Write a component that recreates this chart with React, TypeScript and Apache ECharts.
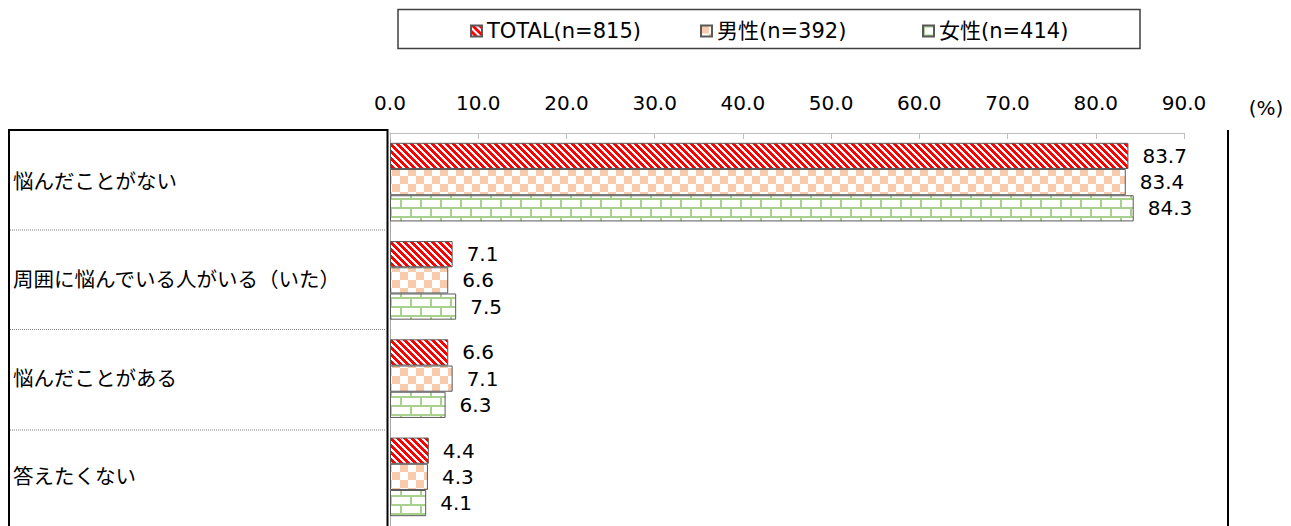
import React, { useEffect, useRef } from "react";
import * as echarts from "echarts";

const categories = [
  "悩んだことがない",
  "周囲に悩んでいる人がいる（いた）",
  "悩んだことがある",
  "答えたくない",
];
const seriesNames = ["TOTAL(n=815)", "男性(n=392)", "女性(n=414)"];
const totalValues = [83.7, 7.1, 6.6, 4.4];
const maleValues = [83.4, 6.6, 7.1, 4.3];
const femaleValues = [84.3, 7.5, 6.3, 4.1];
const axisMin = 0;
const axisMax = 90;
const axisInterval = 10;

const FONT = "'DejaVu Sans', 'Noto Sans CJK JP', sans-serif";

function makePattern(w: number, h: number, draw: (ctx: CanvasRenderingContext2D) => void) {
  const c = document.createElement("canvas");
  c.width = w;
  c.height = h;
  const ctx = c.getContext("2d") as CanvasRenderingContext2D;
  draw(ctx);
  return { image: c, repeat: "repeat", imageWidth: w, imageHeight: h } as any;
}

export default function App() {
  const ref = useRef<HTMLDivElement>(null);
  useEffect(() => {
    if (!ref.current) return;
    const chart = echarts.init(ref.current, undefined, { renderer: "svg" });

    const P = 7;
    const stripes = makePattern(P, P, (ctx) => {
      ctx.fillStyle = "#ffffff";
      ctx.fillRect(0, 0, P, P);
      ctx.fillStyle = "#ff0000";
      for (let y = 0; y < P; y++)
        for (let x = 0; x < P; x++)
          if ((x - y + 2 * P) % P < 4) ctx.fillRect(x, y, 1, 1);
    });
    const checker = makePattern(16, 16, (ctx) => {
      ctx.fillStyle = "#ffffff";
      ctx.fillRect(0, 0, 16, 16);
      ctx.fillStyle = "#f8cbad";
      ctx.fillRect(0, 0, 8, 8);
      ctx.fillRect(8, 8, 8, 8);
    });
    const brick = makePattern(20, 18, (ctx) => {
      ctx.fillStyle = "#ffffff";
      ctx.fillRect(0, 0, 20, 18);
      ctx.fillStyle = "#a9d18e";
      ctx.fillRect(0, 0, 20, 2);
      ctx.fillRect(0, 9, 20, 2);
      ctx.fillRect(0, 0, 2, 9);
      ctx.fillRect(10, 9, 2, 9);
    });
    const patterns = [stripes, checker, brick];
    const values = [totalValues, maleValues, femaleValues];

    const series = seriesNames.map((name, i) => ({
      name,
      type: "bar",
      data: values[i],
      barGap: "0%",
      barCategoryGap: "20%",
      itemStyle: { color: patterns[i], borderColor: "#595959", borderWidth: 1 },
      label: {
        show: true,
        position: "right",
        distance: 14,
        formatter: (p: any) => Number(p.value).toFixed(1),
        fontSize: 20,
        fontFamily: FONT,
        color: "#000",
      },
    }));

    const legendLefts = [465, 695, 917];
    const legendGaps = [10, 16, 15];
    const legends = seriesNames.map((n, i) => ({
      data: [n],
      left: legendLefts[i],
      top: 13,
      itemWidth: 11,
      itemHeight: 11,
      itemTextGap: legendGaps[i],
      icon: "rect",
      textStyle: { fontSize: 21, fontFamily: FONT, color: "#000", lineHeight: 26 },
      selectedMode: false,
    }));

    chart.setOption({
      animation: false,
      backgroundColor: "#ffffff",
      legend: legends,
      grid: { left: 390, right: 107, top: 133, bottom: -2, containLabel: false },
      xAxis: {
        type: "value",
        position: "top",
        min: axisMin,
        max: axisMax,
        interval: axisInterval,
        axisLine: { show: true, lineStyle: { color: "#bfbfbf", width: 1 } },
        axisTick: { show: true, inside: true, length: 6, lineStyle: { color: "#bfbfbf" } },
        axisLabel: {
          formatter: (v: number) => v.toFixed(1),
          fontSize: 20,
          fontFamily: FONT,
          color: "#000",
          margin: 20,
        },
        splitLine: { show: false },
      },
      yAxis: {
        type: "category",
        inverse: true,
        data: categories,
        axisLine: { show: true, lineStyle: { color: "#a6a6a6", width: 1 } },
        axisTick: { show: false },
        axisLabel: {
          align: "left",
          margin: 377,
          fontSize: 20.5,
          fontFamily: FONT,
          color: "#000",
        },
      },
      series,
      graphic: [
        {
          type: "rect",
          shape: { x: 398, y: 9.5, width: 742, height: 39 },
          style: { fill: "none", stroke: "#404040", lineWidth: 1.5 },
        },
        {
          type: "rect",
          shape: { x: 9, y: 130, width: 378.5, height: 420 },
          style: { fill: "none", stroke: "#000", lineWidth: 2 },
        },
        {
          type: "line",
          shape: { x1: 1228, y1: 130, x2: 1228, y2: 530 },
          style: { stroke: "#000", lineWidth: 2 },
        },
        ...[230, 329.5, 430].map((y) => ({
          type: "line",
          shape: { x1: 10, y1: y, x2: 387, y2: y },
          style: { stroke: "#808080", lineWidth: 1, lineDash: [1, 1] },
        })),
        {
          type: "text",
          x: 1266,
          y: 108,
          style: {
            text: "(%)",
            fontSize: 20,
            fontFamily: FONT,
            fill: "#000",
            align: "center",
            verticalAlign: "middle",
          },
        },
      ],
    });
    return () => chart.dispose();
  }, []);
  return (
    <div
      ref={ref}
      style={{ position: "fixed", left: 0, top: 0, width: 1291, height: 526 }}
    />
  );
}
